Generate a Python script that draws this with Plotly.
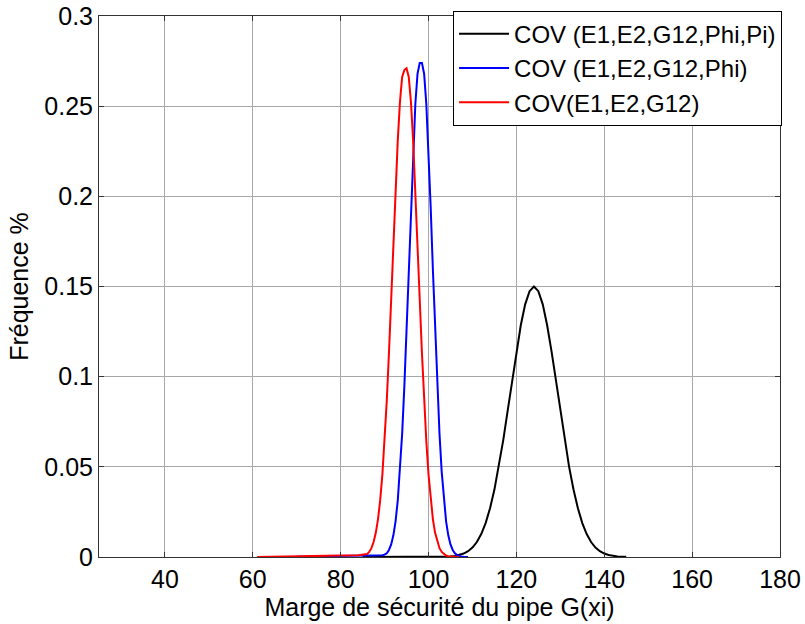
import plotly.graph_objects as go

# Black: COV (E1,E2,G12,Phi,Pi)
black_x = [85, 90, 95, 100, 103,
           104, 105, 106, 107, 108, 109, 110, 111, 112, 113, 114, 115, 116, 117, 118, 119,
           120, 121, 122, 123, 124, 125, 126, 127, 128, 129, 130, 131, 132, 133, 134, 135,
           136, 137, 138, 139, 140, 141, 142, 143, 144, 145]
black_y = [0.0, 0.0, 0.0, 0.0001, 0.0001,
           0.0001, 0.0003, 0.0006, 0.0011, 0.0019, 0.0032, 0.0052, 0.0083, 0.0127, 0.0188, 0.0270, 0.0374, 0.0500, 0.0647, 0.0809, 0.0977,
           0.1140, 0.1285, 0.1401, 0.1474, 0.1500, 0.1474, 0.1401, 0.1285, 0.1140, 0.0977, 0.0809, 0.0647, 0.0500, 0.0374, 0.0270, 0.0188,
           0.0127, 0.0083, 0.0052, 0.0032, 0.0019, 0.0011, 0.0006, 0.0003, 0.0002, 0.0002]

# Blue: COV (E1,E2,G12,Phi)
blue_x = [70, 75, 80, 85, 88,
          88.5, 89, 89.5, 90, 90.5, 91, 91.5, 92, 92.5, 93, 93.5, 94, 94.5, 95, 95.5, 96, 96.5, 97, 97.5, 98,
          98.5, 99, 99.5, 100, 100.5, 101, 101.5, 102, 102.5, 103, 103.5, 104, 104.5, 105, 105.5, 106,
          106.5, 107, 107.5, 108, 108.5, 109]
blue_y = [0.0002, 0.0004, 0.0006, 0.0007, 0.0007,
          0.0008, 0.0009, 0.0010, 0.0013, 0.0021, 0.0039, 0.0070, 0.0120, 0.0198, 0.0313, 0.0472, 0.0683, 0.0946, 0.1255, 0.1590, 0.1936, 0.2255, 0.2512, 0.2680, 0.2740,
          0.2740, 0.2680, 0.2512, 0.2255, 0.1936, 0.1590, 0.1255, 0.0946, 0.0683, 0.0472, 0.0313, 0.0198, 0.0120, 0.0070, 0.0039, 0.0021,
          0.0011, 0.0005, 0.0002, 0.0001, 0.0000, 0.0000]

# Red: COV(E1,E2,G12)
red_x = [61, 65, 70, 75, 80, 84,
         85, 85.5, 86, 86.5, 87, 87.5, 88, 88.5, 89, 89.5, 90, 90.5, 91, 91.5, 92, 92.5, 93, 93.5, 94, 94.5, 95, 95.5,
         96, 96.5, 97, 97.5, 98, 98.5, 99, 99.5, 100, 100.5, 101, 101.5, 102, 102.5, 103, 103.5, 104, 104.5, 105, 105.5,
         106, 106.5, 107]
red_y = [0.0, 0.0001, 0.0004, 0.0006, 0.0008, 0.0010,
         0.0011, 0.0012, 0.0016, 0.0028, 0.0049, 0.0083, 0.0134, 0.0209, 0.0315, 0.0457, 0.0641, 0.0867, 0.1133, 0.1428, 0.1737, 0.2038, 0.2309, 0.2524, 0.2662, 0.2700, 0.2710, 0.2662,
         0.2524, 0.2309, 0.2038, 0.1737, 0.1428, 0.1133, 0.0867, 0.0641, 0.0457, 0.0315, 0.0209, 0.0134, 0.0083, 0.0049, 0.0028, 0.0016, 0.0008, 0.0004, 0.0002, 0.0001,
         0.0001, 0.0000, 0.0000]

series_names = ["COV (E1,E2,G12,Phi,Pi)", "COV (E1,E2,G12,Phi)", "COV(E1,E2,G12)"]
x_ticks = [40, 60, 80, 100, 120, 140, 160, 180]
y_ticks = [0, 0.05, 0.1, 0.15, 0.2, 0.25, 0.3]
y_tick_labels = ["0", "0.05", "0.1", "0.15", "0.2", "0.25", "0.3"]

FONT = "Liberation Sans, Arial, sans-serif"
FS = 25

fig = go.Figure()
fig.add_trace(go.Scatter(x=black_x, y=black_y, mode="lines", name=series_names[0],
                         line=dict(color="#000000", width=2)))
fig.add_trace(go.Scatter(x=blue_x, y=blue_y, mode="lines", name=series_names[1],
                         line=dict(color="#0000ff", width=2)))
fig.add_trace(go.Scatter(x=red_x, y=red_y, mode="lines", name=series_names[2],
                         line=dict(color="#ff0000", width=2)))

axis_common = dict(
    showgrid=True, gridcolor="#a8a8a8", gridwidth=1,
    showline=True, linecolor="#333333", linewidth=1, mirror="ticks",
    ticks="inside", ticklen=5, tickcolor="#333333",
    zeroline=False, automargin=False,
    tickfont=dict(family=FONT, size=FS, color="#000000"),
)

fig.update_layout(
    width=805, height=624,
    margin=dict(l=99, r=25, t=15, b=67),
    paper_bgcolor="#ffffff", plot_bgcolor="#ffffff",
    font=dict(family=FONT, size=FS, color="#000000"),
    xaxis=dict(range=[25, 180], tickvals=x_ticks,
               title=dict(text="Marge de sécurité du pipe G(xi)", font=dict(family=FONT, size=FS), standoff=4),
               **axis_common),
    yaxis=dict(range=[0, 0.3], tickvals=y_ticks, ticktext=y_tick_labels,
               title=dict(text="Fréquence %", font=dict(family=FONT, size=FS), standoff=8),
               **axis_common),
    legend=dict(x=1.003, y=1.008, xanchor="right", yanchor="top",
                bgcolor="#ffffff", bordercolor="#000000", borderwidth=1,
                font=dict(family=FONT, size=24, color="#000000"),
                tracegroupgap=0, itemwidth=50),
    showlegend=True,
)

# remove the default 8px page margin so the figure sits at the window's top-left corner
fig.write_html("out.html", config={"displayModeBar": False},
               post_script="document.body.style.margin='0';")
